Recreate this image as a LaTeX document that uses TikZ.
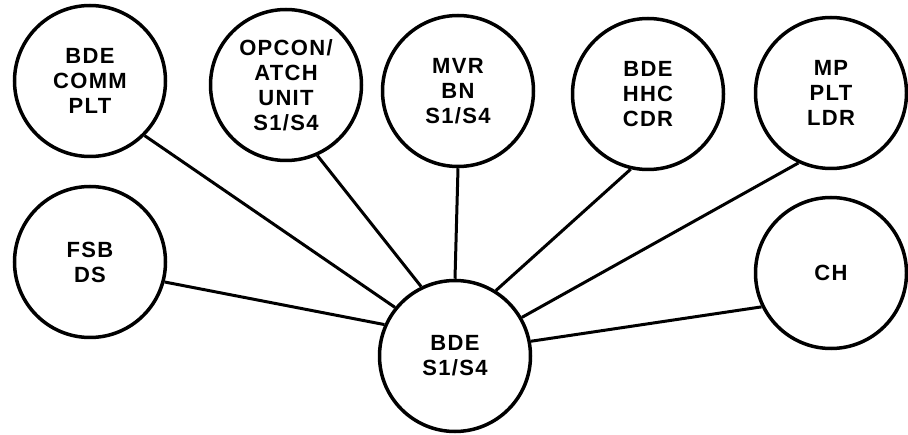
\documentclass[tikz,border=0pt]{standalone}
\usepackage{fontspec}
\newfontfamily\lblfont{Liberation Sans}[LetterSpace=6]
\begin{document}
\begin{tikzpicture}[x=1pt,y=1pt,
  unit/.style={circle,draw,line width=3.5pt,minimum size=151pt,inner sep=0pt,
    align=center,font=\lblfont\bfseries\fontsize{22}{25}\selectfont},
  link/.style={line width=3pt}]
\useasboundingbox (0,0) rectangle (908,434);
\node[unit] (c1) at (90,353) {BDE\\COMM\\PLT};
\node[unit] (c2) at (286,349) {OPCON/\\ATCH\\UNIT\\S1/S4};
\node[unit] (c3) at (458,343) {MVR\\BN\\S1/S4};
\node[unit] (c4) at (648,340) {BDE\\HHC\\CDR};
\node[unit] (c5) at (831,341) {MP\\PLT\\LDR};
\node[unit] (c6) at (90,172) {FSB\\DS};
\node[unit] (c7) at (831,161) {CH};
\node[unit] (c8) at (455,78) {BDE\\S1/S4};
\draw[link] (c1.-45) -- (c8.141);
\draw[link] (c2.-66) -- (c8.116);
\draw[link] (c3.-90) -- (c8.90);
\draw[link] (c4.-103) -- (c8.58);
\draw[link] (c5.-115) -- (c8.30);
\draw[link] (c6.-15) -- (c8.156);
\draw[link] (c7.-154) -- (c8.11);
\end{tikzpicture}
\end{document}
